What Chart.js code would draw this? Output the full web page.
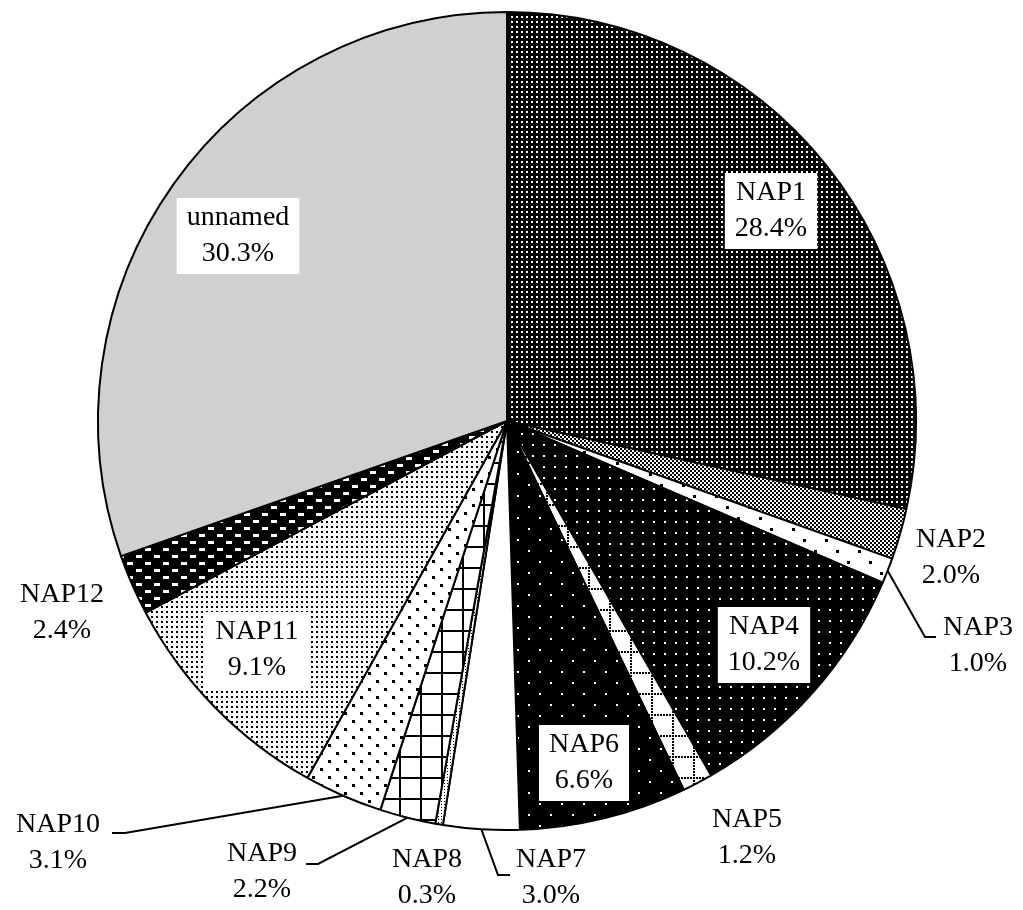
<!DOCTYPE html>
<html lang="en">
<head>
<meta charset="UTF-8">
<title>NAP share</title>
<style>
  html, body { margin: 0; padding: 0; background: #fff; }
  canvas { display: block; }
</style>
<script src="https://cdn.jsdelivr.net/npm/chart.js"></script>
</head>
<body>
<canvas id="chart" width="1023" height="910"></canvas>
<script>
// data, clockwise from 12 o'clock
const names = ['NAP1', 'NAP2', 'NAP3', 'NAP4', 'NAP5', 'NAP6', 'NAP7', 'NAP8', 'NAP9', 'NAP10', 'NAP11', 'NAP12', 'unnamed'];
const shares = [28.4, 2.0, 1.0, 10.2, 1.2, 6.6, 3.0, 0.3, 2.2, 3.1, 9.1, 2.4, 30.3];

// label placement (text centre, optional leader elbow) - layout only
const labelPos = {
  NAP1:    { box: true, x: 771, y: 211 },
  NAP2:    { x: 951, y: 558 },
  NAP3:    { x: 978, y: 646, elbow: [925, 637], tail: [936, 637] },
  NAP4:    { box: true, x: 764, y: 645 },
  NAP5:    { x: 747, y: 838 },
  NAP6:    { box: true, x: 584, y: 763 },
  NAP7:    { x: 551, y: 878, elbow: [498, 875], tail: [510, 875] },
  NAP8:    { x: 427, y: 878 },
  NAP9:    { x: 262, y: 872, elbow: [318, 864], tail: [306, 864] },
  NAP10:   { x: 58, y: 843, elbow: [125, 833], tail: [112, 833] },
  NAP11:   { box: true, x: 257, y: 650 },
  NAP12:   { x: 62, y: 613 },
  unnamed: { box: true, x: 238, y: 236 }
};

// little tile painter for the hatch fills
function tile(w, h, bg, fg, draw) {
  const c = document.createElement('canvas');
  c.width = w; c.height = h;
  const g = c.getContext('2d');
  g.fillStyle = bg; g.fillRect(0, 0, w, h);
  g.fillStyle = fg; g.strokeStyle = fg;
  draw(g);
  return document.getElementById('chart').getContext('2d').createPattern(c, 'repeat');
}

const fills = [
  // NAP1 dense white dots on black
  tile(5, 5, '#000', '#fff', g => g.fillRect(1, 1, 2, 2)),
  // NAP2 fine checker
  tile(4, 4, '#fff', '#000', g => { g.fillRect(0, 0, 2, 2); g.fillRect(2, 2, 2, 2); }),
  // NAP3 sparse black dots
  tile(22, 22, '#fff', '#000', g => { g.fillRect(0, 0, 3, 3); g.fillRect(11, 11, 3, 3); }),
  // NAP4 white dots on black
  tile(11, 11, '#000', '#fff', g => g.fillRect(4, 4, 2, 2)),
  // NAP5 dotted grid
  tile(21, 21, '#fff', '#000', g => { for (let i = 0; i < 21; i += 3) { g.fillRect(i, 0, 2, 2); g.fillRect(0, i, 2, 2); } }),
  // NAP6 staggered white dots on black
  tile(22, 22, '#000', '#fff', g => { g.fillRect(0, 0, 2, 2); g.fillRect(11, 11, 2, 2); }),
  // NAP7 plain white
  '#fff',
  // NAP8 very fine dots
  tile(3, 3, '#fff', '#000', g => g.fillRect(0, 0, 1, 1)),
  // NAP9 square grid
  tile(21, 21, '#fff', '#000', g => { g.fillRect(0, 0, 21, 2); g.fillRect(0, 0, 2, 21); }),
  // NAP10 staggered black dots
  tile(16, 16, '#fff', '#000', g => { g.fillRect(0, 0, 3, 3); g.fillRect(8, 8, 3, 3); }),
  // NAP11 dense black dots
  tile(5, 5, '#fff', '#000', g => g.fillRect(1, 1, 2, 2)),
  // NAP12 white dashes on black
  tile(18, 14, '#000', '#fff', g => { g.fillRect(1, 2, 6, 3); g.fillRect(10, 9, 6, 3); }),
  // unnamed light grey
  '#d0d0d0'
];

const labelPlugin = {
  id: 'sliceLabels',
  afterDatasetsDraw(chart) {
    const ctx = chart.ctx;
    const arcs = chart.getDatasetMeta(0).data;
    ctx.save();
    ctx.font = '28px "Liberation Serif", "Times New Roman", serif';
    ctx.textAlign = 'center';
    ctx.textBaseline = 'middle';
    names.forEach((n, i) => {
      const p = labelPos[n];
      const l1 = n, l2 = shares[i].toFixed(1) + '%';
      const lh = 36;
      if (p.box) {
        const w = Math.max(ctx.measureText(l1).width, ctx.measureText(l2).width) + 20;
        ctx.fillStyle = '#fff';
        ctx.fillRect(p.x - w / 2, p.y - lh - 2, w, lh * 2 + 4);
      }
      if (p.elbow) {
        const a = arcs[i];
        const mid = (a.startAngle + a.endAngle) / 2;
        ctx.strokeStyle = '#000';
        ctx.lineWidth = 2;
        ctx.beginPath();
        ctx.moveTo(a.x + Math.cos(mid) * a.outerRadius, a.y + Math.sin(mid) * a.outerRadius);
        ctx.lineTo(p.elbow[0], p.elbow[1]);
        ctx.lineTo(p.tail[0], p.tail[1]);
        ctx.stroke();
      }
      ctx.fillStyle = '#000';
      ctx.fillText(l1, p.x, p.y - lh / 2);
      ctx.fillText(l2, p.x, p.y + lh / 2);
    });
    ctx.restore();
  }
};

new Chart(document.getElementById('chart'), {
  type: 'pie',
  data: {
    labels: names,
    datasets: [{
      data: shares,
      backgroundColor: fills,
      borderColor: '#000',
      borderWidth: 2
    }]
  },
  options: {
    responsive: false,
    animation: false,
    layout: { padding: { left: 97, right: 106, top: 11, bottom: 79 } },
    plugins: { legend: { display: false }, tooltip: { enabled: false } }
  },
  plugins: [labelPlugin]
});
</script>
</body>
</html>
